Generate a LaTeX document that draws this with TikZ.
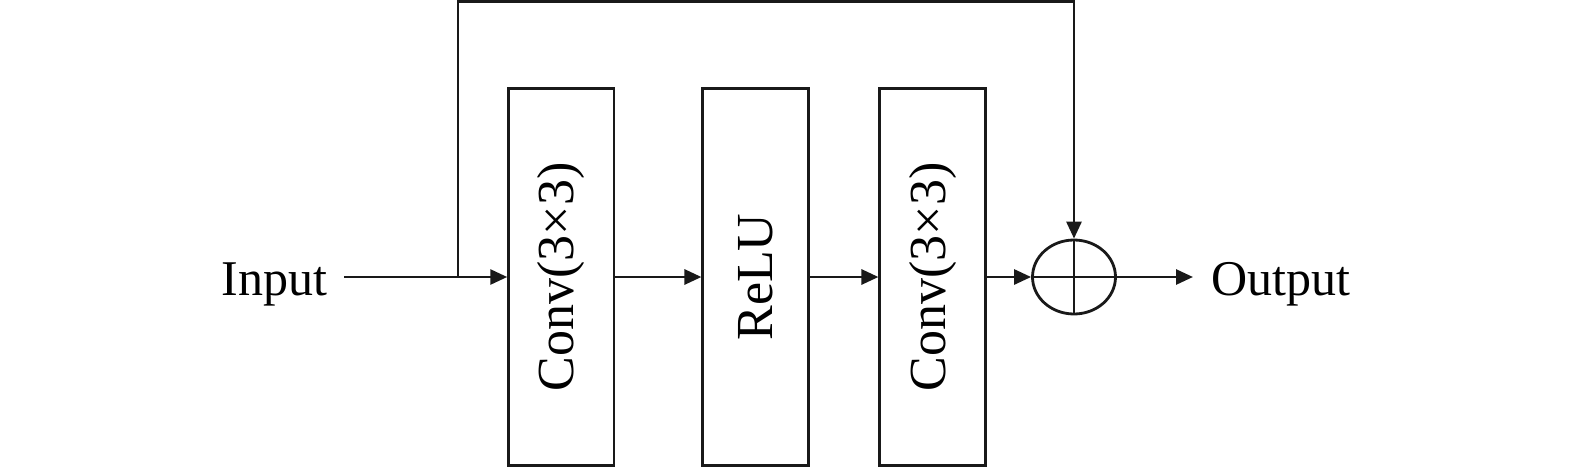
\documentclass[tikz,border=0pt]{standalone}
\usepackage{fontspec}
\setmainfont{Liberation Serif}
\usetikzlibrary{arrows.meta,shapes.geometric}
\begin{document}
\begin{tikzpicture}[x=1pt,y=-1pt, line width=2.8pt,
  line/.style={draw=black!90, line width=2.8pt},
  arr/.style={line, -{Triangle[length=17pt,width=15pt]}},
  blk/.style={draw=black!90, line width=2.8pt, minimum width=105.3pt, minimum height=376.7pt, inner sep=0pt, font=\fontsize{52}{60}\selectfont},
  lbl/.style={inner sep=0pt, font=\fontsize{50}{60}\selectfont}]
\useasboundingbox (0,0) rectangle (1575,469);
\node[blk] (c1) at (561.3,277) {\rotatebox{90}{Conv(3×3)}};
\node[blk] (r1) at (755.5,277) {\rotatebox{90}{ReLU}};
\node[blk] (c2) at (932.5,277) {\rotatebox{90}{Conv(3×3)}};
\node[draw=black!90, ellipse, line width=2.8pt, minimum width=83pt, minimum height=74pt, inner sep=0pt] (sum) at (1074,277) {};
\draw[line] (sum.north) -- (sum.south);
\draw[line] (sum.west) -- (sum.east);
\node[lbl, anchor=base] (in) at (274.5,295) {Input};
\node[lbl, anchor=base] (out) at (1280.5,295) {Output};
\coordinate (inA) at (344,277);
\coordinate (br) at (458,277);
\coordinate (tr) at (1074,1.5);
\coordinate (outA) at (1193,277);
\draw[arr] (inA) -- (c1);
\draw[arr] (c1) -- (r1);
\draw[arr] (r1) -- (c2);
\draw[arr] (c2) -- (sum);
\draw[arr] (sum) -- (outA);
\draw[arr] (br) |- (tr) -- (sum);
\end{tikzpicture}
\end{document}
